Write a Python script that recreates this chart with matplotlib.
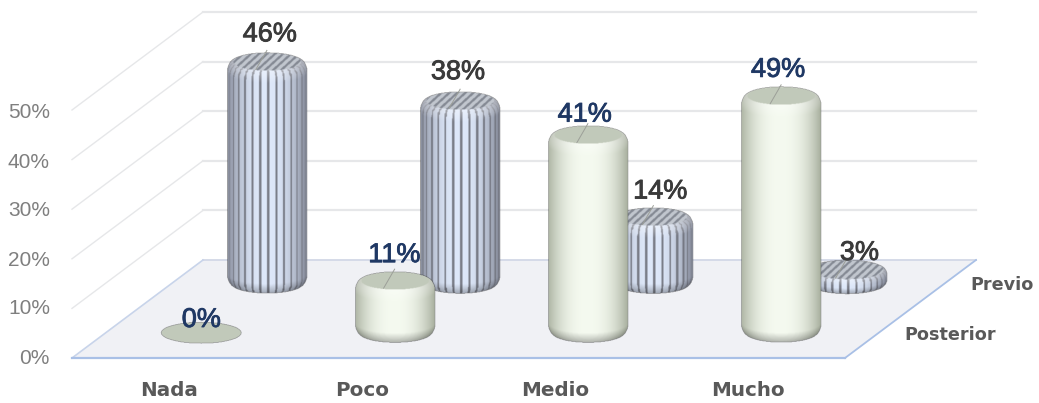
import numpy as np
import matplotlib
matplotlib.use("Agg")
import matplotlib.pyplot as plt
import matplotlib.patheffects as pe

categories = ["Nada", "Poco", "Medio", "Mucho"]
series_names = ["Posterior", "Previo"]
posterior = [0, 11, 41, 49]
previo = [46, 38, 14, 3]
value_ticks = [0, 10, 20, 30, 40, 50]

# label nudges in pixels, same order as the values
posterior_nudge = [(0, -13.5), (0, -25), (-3, -20), (-3, -26)]
previo_nudge = [(3, -27), (-2, -28), (7, -25), (13, -17)]

W, H = 1039, 403
X0, X1, Y0 = 72, 845, 358      # front floor edge
DX, DY = 131, -98              # floor depth vector
GRID_STEP = 4.96               # px per 1% on the walls
TICK_STEP = 4.9                # px per 1% for the tick labels
BAR_STEP = 4.85                # px per 1% on the bars
RX, RY = 40.0, 10.5
DEPTHS = [0.25, 0.75]

NAVY = "#1f3864"
DARK = "#3a3a3a"
GRID = "#e6e7e9"


def project(cat, depth):
    x = X0 + (cat + 0.5) * (X1 - X0) / len(categories) + depth * DX
    y = Y0 + depth * DY
    return x, y


def shade_side(u, theta, striped, t, d_top, bev):
    # brightness across the cylinder, brightest a bit right of centre
    s = 1 - 0.9 * np.abs(u + 0.02) ** 2.4
    if striped:
        light = np.array([0.87, 0.91, 0.98])
        dark = np.array([0.50, 0.52, 0.58])
        col = dark[None, None] + (light - dark)[None, None] * s[..., None] ** 1.2
        band = (theta * 15 / np.pi) % 1
        lines = band < 0.27
        col[lines] = col[lines] * 0.1 + np.array([0.44, 0.45, 0.49]) * 0.9
    else:
        light = np.array([0.96, 0.98, 0.94])
        dark = np.array([0.63, 0.66, 0.59])
        col = dark[None, None] + (light - dark)[None, None] * s[..., None] ** 1.0
    if t < bev:
        col = col * (0.70 + 0.30 * (t / bev))
    if d_top < bev:
        # top shoulder catches the light
        col = col + (1 - col) * 0.35 * (1 - d_top / bev)
    return col


def draw_cylinder(ax, cx, base, h, striped, z):
    ss = 2
    bev = min(11.0, max(h * 0.45, 2.0))
    x_px = np.arange(cx - RX - 2, cx + RX + 2, 1 / ss)
    y_px = np.arange(base - h - RY - 2, base + RY + 2, 1 / ss)
    xx, yy = np.meshgrid(x_px, y_px)
    img = np.zeros(xx.shape + (4,))

    levels = np.arange(0, h + 0.01, 0.5) if h > 0 else np.array([0.0])
    for t in levels:
        # rounded shoulders at both ends
        d_top = h - t
        inset = 0.0
        if d_top < bev:
            inset = bev * 0.55 * (1 - np.sqrt(1 - (1 - d_top / bev) ** 2))
        if t < bev:
            inset = max(inset, bev * 0.6 * (1 - np.sqrt(1 - (1 - t / bev) ** 2)))
        r = RX - inset
        ry = r * RY / RX
        dx = (xx - cx) / r
        dy = (yy - (base - t)) / ry
        mask = dx ** 2 + dy ** 2 <= 1
        theta = np.arctan2(dx, dy)
        col = shade_side(np.clip(dx, -1, 1), theta, striped, t, d_top, bev)
        img[mask, :3] = col[mask]
        img[mask, 3] = 1

    # flat cap
    r = RX - bev * 0.55 if h > 0 else RX
    ry = r * RY / RX
    dx = (xx - cx) / r
    dy = (yy - (base - h)) / ry
    mask = dx ** 2 + dy ** 2 <= 1
    if striped:
        hatch = (((xx - cx) + (yy - base) * 1.1) / 8.0) % 1
        cap = np.where(hatch[..., None] < 0.42,
                       np.array([0.52, 0.54, 0.58]), np.array([0.76, 0.78, 0.81]))
    else:
        cap = np.ones(xx.shape + (3,)) * np.array([0.76, 0.79, 0.73])
    img[mask, :3] = cap[mask]
    img[mask, 3] = 1

    ax.imshow(img, extent=(x_px[0], x_px[-1], y_px[-1], y_px[0]), aspect="auto",
              interpolation="bilinear", zorder=z)


fig = plt.figure(figsize=(W / 100, H / 100), dpi=100)
ax = fig.add_axes([0, 0, 1, 1])

# walls
for v in value_ticks:
    left = Y0 - v * GRID_STEP
    back = left + DY
    if v > 0:
        ax.plot([X0, X0 + DX], [left, back], color=GRID, lw=1.0, zorder=1)
        ax.plot([X0 + DX, X1 + DX], [back, back], color=GRID, lw=1.6, zorder=1)
    ax.text(50, Y0 - v * TICK_STEP, f"{v}%", ha="right", va="center", fontsize=15,
            family="Liberation Sans", color="#7f7f7f")

# floor
ax.fill([X0, X1, X1 + DX, X0 + DX], [Y0, Y0, Y0 + DY, Y0 + DY], color="#f0f1f5", lw=0, zorder=2)
ax.plot([X0 + DX, X1 + DX], [Y0 + DY, Y0 + DY], color="#d5dae8", lw=1.4, zorder=2)
ax.plot([X0, X0 + DX], [Y0, Y0 + DY], color="#c8d4ea", lw=1.2, zorder=2)
ax.plot([X1, X1 + DX], [Y0, Y0 + DY], color="#a9c0e6", lw=1.3, zorder=2)
ax.plot([X0, X1], [Y0, Y0], color="#a9c0e6", lw=1.6, zorder=2)

# bars, back row first
rows = [(previo, DEPTHS[1], True, previo_nudge, DARK), (posterior, DEPTHS[0], False, posterior_nudge, NAVY)]
z = 3
for values, depth, striped, nudges, text_col in rows:
    for i, v in enumerate(values):
        cx, base = project(i, depth)
        top = base - v * BAR_STEP
        draw_cylinder(ax, cx, base, v * BAR_STEP, striped, z)
        z += 1
        if v > 0:
            ax.plot([cx, cx - 11], [top - 11, top + 8], color="#9c9f98", lw=0.7, zorder=z)
        z += 1
        ax.text(cx + nudges[i][0], top + nudges[i][1], f"{v}%", ha="center", va="center",
                fontsize=19.5, family="Liberation Sans", color=text_col, zorder=50,
                path_effects=[pe.withStroke(linewidth=0.6, foreground=text_col)])

# axis labels
for i, name in enumerate(categories):
    cx, _ = project(i, 0)
    ax.text(cx, 391, name, ha="center", va="center", fontsize=14.3, fontweight="bold",
            family="DejaVu Sans", color="#595959")
for name, depth in zip(series_names, DEPTHS):
    x, y = project(len(categories) - 0.5, depth)
    ax.text(x + 27, y + 1, name, ha="left", va="center", fontsize=12.7, fontweight="bold",
            family="DejaVu Sans", color="#595959")

ax.set_xlim(0, W)
ax.set_ylim(H, 0)
ax.axis("off")
fig.savefig("out.png", dpi=100, facecolor="white")
